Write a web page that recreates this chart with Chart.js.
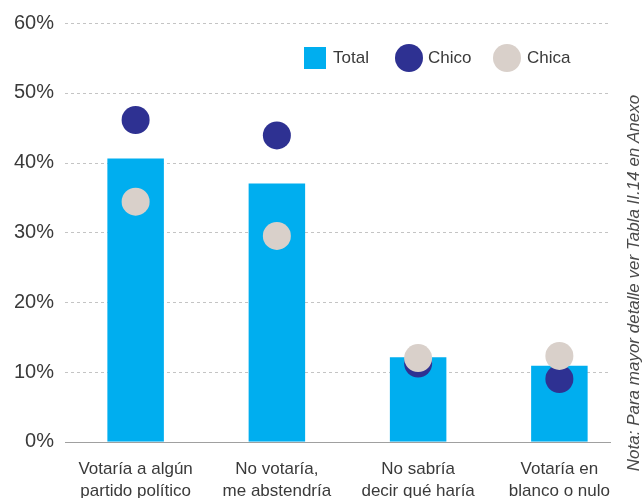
<!DOCTYPE html>
<html>
<head>
<meta charset="utf-8">
<script src="https://cdn.jsdelivr.net/npm/chart.js@4/dist/chart.umd.min.js"></script>
<style>
  html, body { margin: 0; padding: 0; background: #fff; overflow: hidden; }
  #wrap { width: 644px; height: 518px; position: relative; }
</style>
</head>
<body>
<div id="wrap"><canvas id="votoChart"></canvas></div>
<script>
// Data (percent)
const categories = [
    ['Votaría a algún', 'partido político'],
    ['No votaría,', 'me abstendría'],
    ['No sabría', 'decir qué haría'],
    ['Votaría en', 'blanco o nulo']
];
const totalValues = [40.6, 37.0, 12.1, 10.9];
const chicoValues = [46.1, 43.9, 11.2, 9.0];
const chicaValues = [34.4, 29.5, 12.0, 12.3];
const yTicks = [0, 10, 20, 30, 40, 50, 60];

const colTotal = '#00aeef';
const colChico = '#2e3192';
const colChica = '#d9d0ca';
const textColor = '#3a3a3a';
const fontFamily = '"Liberation Sans", Arial, sans-serif';

const noteText = 'Nota: Para mayor detalle ver Tabla II.14 en Anexo';

// Dashed grid lines that stop short of the note on the right
const gridPlugin = {
    id: 'gridPlugin',
    beforeDatasetsDraw(chart) {
        const ctx = chart.ctx;
        const y = chart.scales.y;
        const left = chart.chartArea.left;
        const right = 611;
        ctx.save();
        yTicks.forEach(v => {
            const py = Math.round(y.getPixelForValue(v)) + 0.5;
            ctx.beginPath();
            if (v === 0) {
                ctx.setLineDash([]);
                ctx.strokeStyle = '#a0a0a0';
            } else {
                ctx.setLineDash([3, 3]);
                ctx.strokeStyle = '#c4c4c4';
            }
            ctx.lineWidth = 1;
            ctx.moveTo(left, py);
            ctx.lineTo(right, py);
            ctx.stroke();
        });
        ctx.restore();
    }
};

// Legend and vertical note
const extrasPlugin = {
    id: 'extrasPlugin',
    afterDraw(chart) {
        const ctx = chart.ctx;
        ctx.save();
        ctx.font = '17px ' + fontFamily;
        ctx.fillStyle = textColor;
        ctx.textBaseline = 'middle';
        const ly = 58;

        // Total
        ctx.fillStyle = colTotal;
        ctx.fillRect(304, ly - 11, 22, 22);
        ctx.fillStyle = textColor;
        ctx.fillText('Total', 333, ly);

        // Chico
        ctx.fillStyle = colChico;
        ctx.beginPath();
        ctx.arc(409, ly, 14, 0, Math.PI * 2);
        ctx.fill();
        ctx.fillStyle = textColor;
        ctx.fillText('Chico', 428, ly);

        // Chica
        ctx.fillStyle = colChica;
        ctx.beginPath();
        ctx.arc(507, ly, 14, 0, Math.PI * 2);
        ctx.fill();
        ctx.fillStyle = textColor;
        ctx.fillText('Chica', 527, ly);

        // note
        ctx.translate(634, 283);
        ctx.rotate(-Math.PI / 2);
        ctx.font = 'italic 17px ' + fontFamily;
        ctx.fillStyle = '#4a4a4a';
        ctx.textAlign = 'center';
        ctx.fillText(noteText, 0, 0);
        ctx.restore();
    }
};

const ctx = document.getElementById('votoChart').getContext('2d');
const votoChart = new Chart(ctx, {
    data: {
        labels: categories,
        datasets: [
            {
                type: 'line',
                label: 'Chica',
                data: chicaValues,
                showLine: false,
                pointRadius: 14,
                pointHoverRadius: 14,
                pointBorderWidth: 0,
                pointBackgroundColor: colChica,
                backgroundColor: colChica,
                order: 0
            },
            {
                type: 'line',
                label: 'Chico',
                data: chicoValues,
                showLine: false,
                pointRadius: 14,
                pointHoverRadius: 14,
                pointBorderWidth: 0,
                pointBackgroundColor: colChico,
                backgroundColor: colChico,
                order: 1
            },
            {
                type: 'bar',
                label: 'Total',
                data: totalValues,
                backgroundColor: colTotal,
                borderWidth: 0,
                categoryPercentage: 1,
                barPercentage: 0.4,
                order: 2
            }
        ]
    },
    options: {
        responsive: true,
        maintainAspectRatio: false,
        animation: false,
        layout: { padding: { top: 21, right: 10, left: 0, bottom: 0 } },
        plugins: {
            legend: { display: false },
            tooltip: { enabled: false }
        },
        scales: {
            x: {
                grid: { display: false, drawTicks: false },
                border: { display: false },
                ticks: {
                    color: textColor,
                    font: { family: fontFamily, size: 17, lineHeight: 1.3 },
                    padding: 16,
                    maxRotation: 0,
                    autoSkip: false
                }
            },
            y: {
                min: 0,
                max: 60,
                grid: { display: false, drawTicks: false },
                border: { display: false },
                afterFit(scale) { scale.width = 65; },
                ticks: {
                    stepSize: 10,
                    padding: 11,
                    color: textColor,
                    font: { family: fontFamily, size: 20 },
                    callback: v => v + '%'
                }
            }
        }
    },
    plugins: [gridPlugin, extrasPlugin]
});
</script>
</body>
</html>
